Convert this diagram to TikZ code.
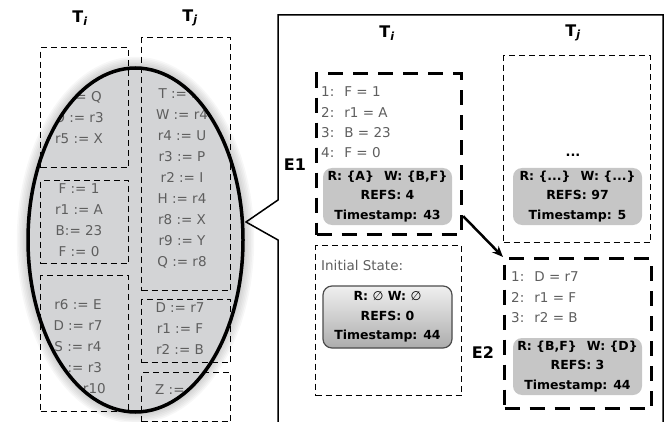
\documentclass[tikz,border=0pt]{standalone}
\usepackage{fontspec}
\setmainfont{DejaVu Sans}
\usetikzlibrary{positioning,arrows.meta,shapes.geometric}

\definecolor{ink}{HTML}{5E5E5E}
\definecolor{lensgray}{HTML}{D3D4D6}
\definecolor{infogray}{HTML}{C6C6C6}

\newcommand{\tlab}[1]{T\textsubscript{\itshape #1}}

\tikzset{
  thinbox/.style={draw, line width=1.2pt, dash pattern=on 6pt off 4pt, inner sep=0, anchor=north west},
  thickbox/.style={draw, line width=3.2pt, dash pattern=on 15pt off 10pt, inner sep=0, anchor=north west},
  info/.style={fill=infogray, rounded corners=9pt, minimum width=129pt, inner sep=0,
    font=\fontsize{12.5}{19.5}\selectfont\bfseries, align=center},
  code/.style={text=ink, font=\fontsize{13.5}{21}\selectfont, align=center, inner sep=0},
  steps/.style={text=ink, font=\fontsize{13.5}{20.4}\selectfont, align=left, inner sep=0, anchor=west},
  head/.style={font=\fontsize{16}{16}\selectfont\bfseries},
}

\begin{document}
\begin{tikzpicture}[x=1pt,y=-1pt]
\useasboundingbox (0,0) rectangle (671,422);

% magnifying lens with its soft shadow
\foreach \g in {1,...,7}
  \fill[black, opacity=0.03] (135.5,240) ellipse ({107.5+1.6*\g} and {172+1.6*\g});
\node[ellipse, fill=lensgray, minimum width=215pt, minimum height=344pt, inner sep=0] (lens) at (135.5,240) {};

\begin{scope}
\clip (135.5,240) ellipse (107.5 and 172);
\node[code] (ci1) at (79,117.5) {D := Q\\ O := r3\\ r5 := X};
\node[code] (ci2) at (79,220.5) {F := 1\\ r1 := A\\ B:= 23\\ F := 0};
\node[code] (ci3) at (78,347) {r6 := E\\ D := r7\\ S := r4\\ C := r3\\ Y := r10};
\node[code] (cj1) at (182,178.5) {T := r2\\ W := r4\\ r4 := U\\ r3 := P\\ r2 := I\\ H := r4\\ r8 := X\\ r9 := Y\\ Q := r8};
\node[code] (cj2) at (180,328.5) {D := r7\\ r1 := F\\ r2 := B};
\node[code, anchor=west] (cj3) at (155,390) {Z := r5};
\end{scope}

\node[thinbox, minimum width=88pt, minimum height=120pt] (ti1) at (40,47) {};
\node[thinbox, minimum width=88pt, minimum height=83pt] (ti2) at (40,180) {};
\node[thinbox, minimum width=88pt, minimum height=136pt] (ti3) at (40,275) {};
\node[thinbox, minimum width=89pt, minimum height=253pt] (tj1) at (141,37) {};
\node[thinbox, minimum width=89pt, minimum height=63pt] (tj2) at (141,299) {};
\node[thinbox, minimum width=89pt, minimum height=49pt] (tj3) at (141,372) {};

\draw[line width=3.5pt] (lens.center) ellipse (107.5 and 172);

\node[head] (hi) at (80,18) {\tlab{i}};
\node[head] (hj) at (190,18) {\tlab{j}};

% zoomed panel
\coordinate (tip) at (246,222);
\draw[line width=1.5pt] (278,430) -- (278,240) -- (tip) -- (278,200) -- (278,15) -- (663,15) -- (663,430);

\node[head] (ri) at (387,33) {\tlab{i}};
\node[head] (rj) at (573,33) {\tlab{j}};

\node[thickbox, minimum width=145pt, minimum height=161pt] (e1) at (315,72) {};
\node[thinbox, minimum width=147pt, minimum height=187pt] (rtj) at (503,55) {};
\node[thinbox, minimum width=146pt, minimum height=150pt] (init) at (315,245) {};
\node[thickbox, minimum width=147pt, minimum height=150pt] (e2) at (503,257) {};

\node[head] (e1lab) at (295,165) {E1};
\node[head] (e2lab) at (483,353) {E2};

\node[steps] (s1) at (321,122.5) {1:~ F = 1\\ 2:~ r1 = A\\ 3:~ B = 23\\ 4:~ F = 0};
\node[steps] (s2) at (511,297.5) {1:~ D = r7\\ 2:~ r1 = F\\ 3:~ r2 = B};
\node[steps] (st) at (321,265) {Initial State:};
\node[font=\fontsize{13}{13}\selectfont\bfseries] (dots) at (573,155) {...};

\node[info, minimum height=57pt] (i1) at (387.5,196.5) {R: \{A\}\hspace{10pt}W: \{B,F\}\\ REFS: 4\\ Timestamp: 43};
\node[info, minimum height=57pt] (ij) at (577.5,196.5) {R: \{...\}\hspace{10pt}W: \{...\}\\ REFS: 97\\ Timestamp: 5};
\node[info, minimum height=62pt, draw=black!70, line width=1.2pt, top color=gray!12, bottom color=gray!65] (i0) at (387.5,317) {R: {\mdseries ∅} W: {\mdseries ∅}\\ REFS: 0\\ Timestamp: 44};
\node[info, minimum height=57pt] (i2) at (577.5,366.5) {R: \{B,F\}\hspace{10pt}W: \{D\}\\ REFS: 3\\ Timestamp: 44};

\draw[line width=2.5pt, -{Stealth[length=11pt, width=9pt]}] ([yshift=20pt]e1.south east) -- (e2.north west);
\end{tikzpicture}
\end{document}
